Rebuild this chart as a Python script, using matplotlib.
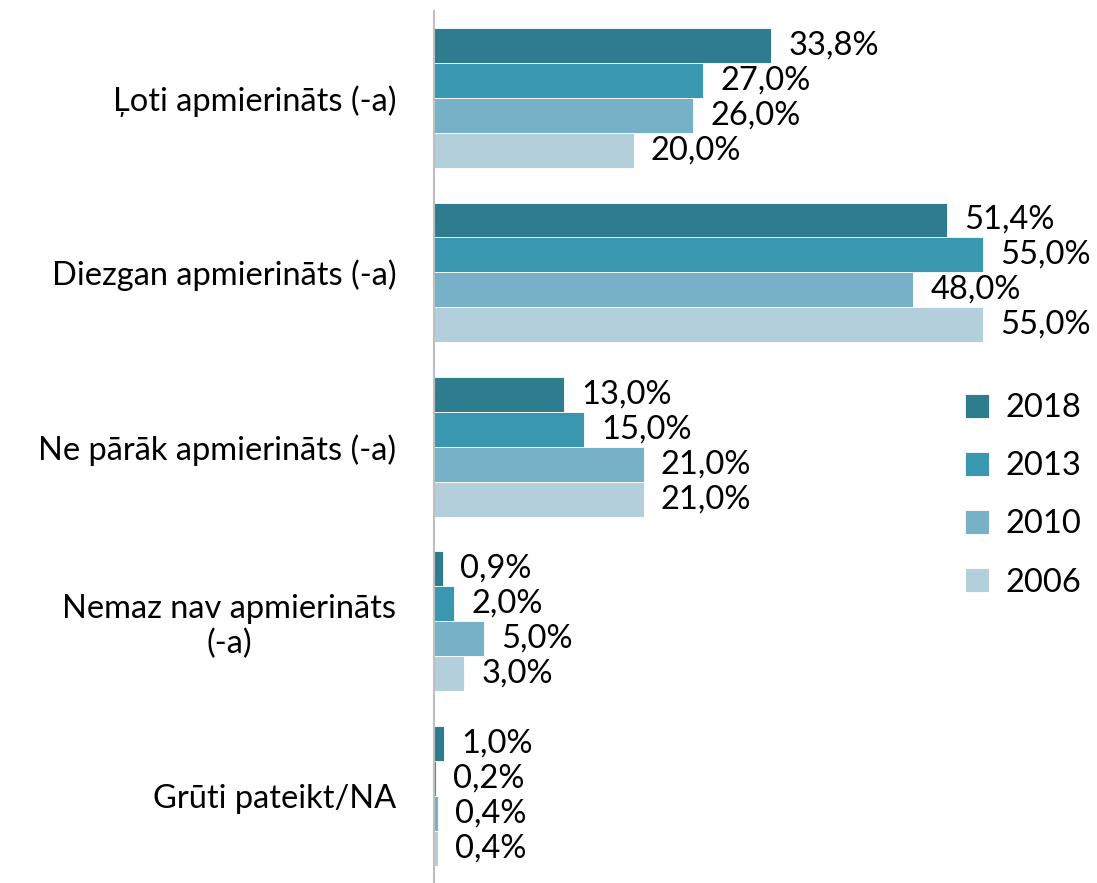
import matplotlib.pyplot as plt
import numpy as np

categories = ["Ļoti apmierināts (-a)", "Diezgan apmierināts (-a)",
              "Ne pārāk apmierināts (-a)", "Nemaz nav apmierināts\n(-a)",
              "Grūti pateikt/NA"]
years = ["2018", "2013", "2010", "2006"]
values = {
    "2018": [33.8, 51.4, 13.0, 0.9, 1.0],
    "2013": [27.0, 55.0, 15.0, 2.0, 0.2],
    "2010": [26.0, 48.0, 21.0, 5.0, 0.4],
    "2006": [20.0, 55.0, 21.0, 3.0, 0.4],
}
colors = ["#2E7D8F", "#3A97B0", "#77B1C8", "#B3CFDB"]

plt.rcParams['font.family'] = ['Lato', 'DejaVu Sans']
fs = 23.5

fig = plt.figure(figsize=(10.97, 8.83), dpi=100)
ax_left = 434 / 1097
ax_w = 0.6
ax = fig.add_axes([ax_left, 0.0, ax_w, 0.988])

bar_h = 0.2
y = np.arange(len(categories))
for i, yr in enumerate(years):
    pos = y - 0.3 + i * bar_h
    bars = ax.barh(pos, values[yr], height=bar_h, color=colors[i], label=yr,
                   edgecolor="white", linewidth=0.6)
    for b, v in zip(bars, values[yr]):
        ax.annotate(f"{v:.1f}%".replace(".", ","), (b.get_width(), b.get_y() + bar_h / 2),
                    xytext=(12.5, 0), textcoords="offset points",
                    va="center", ha="left", fontsize=fs)

ax.set_xlim(0, ax_w * 1097 / 9.98)
ax.set_ylim(4.5, -0.5)
ax.set_yticks(y)
ax.set_yticklabels(categories, fontsize=fs, multialignment="center")
ax.tick_params(axis="y", length=0, pad=27)
ax.set_xticks([])
for s in ["top", "right", "bottom"]:
    ax.spines[s].set_visible(False)
ax.spines["left"].set_color("#BFBFBF")
ax.spines["left"].set_linewidth(1.5)

ax.legend(loc="upper left", bbox_to_anchor=(0.762, 0.595), frameon=False,
          fontsize=fs, handlelength=0.75, handleheight=0.75, labelspacing=0.86,
          handletextpad=0.5)

fig.savefig("out.png", dpi=100)
